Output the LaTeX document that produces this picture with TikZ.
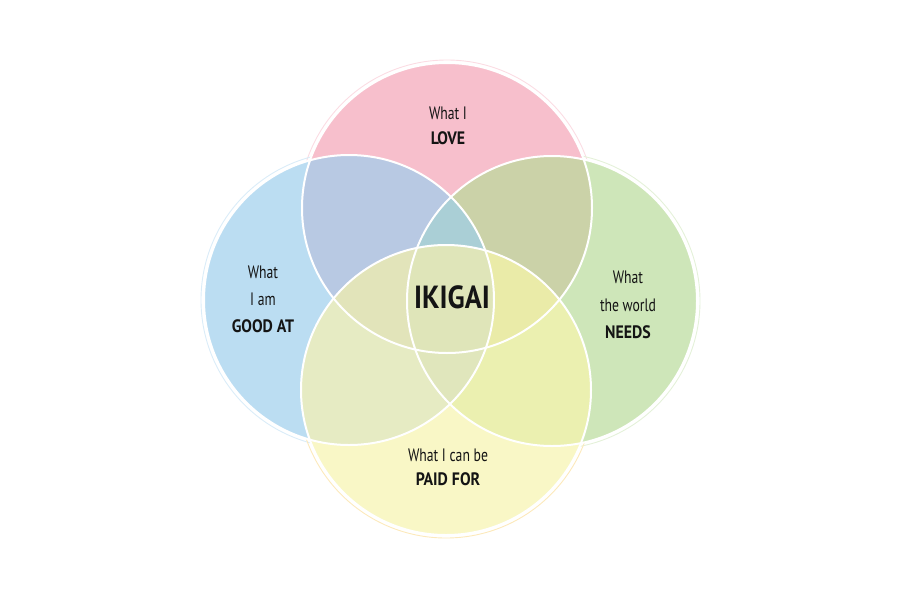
\documentclass[tikz,border=0pt]{standalone}
\usepackage{fontspec}
\setmainfont{PT Sans}[FakeStretch=0.76, BoldFeatures={FakeStretch=0.88}]
\definecolor{cT}{HTML}{F7BFCC}
\definecolor{cL}{HTML}{BBDDF2}
\definecolor{cR}{HTML}{CEE6B9}
\definecolor{cB}{HTML}{F9F7C6}
\definecolor{cTL}{HTML}{B8C9E3}
\definecolor{cTR}{HTML}{CBD2A8}
\definecolor{cLB}{HTML}{E6EBC3}
\definecolor{cRB}{HTML}{EBF0B0}
\definecolor{cTLR}{HTML}{AACFD6}
\definecolor{cTLB}{HTML}{E2E4BA}
\definecolor{cTRB}{HTML}{EAEBA8}
\definecolor{cLRB}{HTML}{E0E6BC}
\definecolor{cAll}{HTML}{DFE5B9}
\definecolor{ink}{HTML}{141414}
\tikzset{
  lbl/.style={text=ink, align=center, inner sep=0pt, font=\fontsize{18}{27}\selectfont},
  big/.style={text=ink, inner sep=0pt, font=\fontsize{32}{34}\selectfont\bfseries},
  edge/.style={draw=white, line width=2pt},
  halo/.style={line width=0.9pt}
}
\begin{document}
\begin{tikzpicture}[x=1pt,y=-1pt]
\useasboundingbox (0,0) rectangle (900,600);
\def\rr{145}
\coordinate (T) at (447,208);
\coordinate (L) at (349,300);
\coordinate (R) at (552,301);
\coordinate (B) at (446,390);
% faint outer rings
\draw[halo, draw=cT!55] (T) circle[radius=\rr+3];
\draw[halo, draw=cL!55] (L) circle[radius=\rr+3];
\draw[halo, draw=cR!55] (R) circle[radius=\rr+3];
\draw[halo, draw=cB!80!orange!70] (B) circle[radius=\rr+3];
% base fills
\fill[cT] (T) circle[radius=\rr];
\fill[cL] (L) circle[radius=\rr];
\fill[cR] (R) circle[radius=\rr];
\fill[cB] (B) circle[radius=\rr];
% pair overlaps
\begin{scope}\clip (T) circle[radius=\rr]; \fill[cTL] (L) circle[radius=\rr]; \fill[cTR] (R) circle[radius=\rr]; \end{scope}
\begin{scope}\clip (B) circle[radius=\rr]; \fill[cLB] (L) circle[radius=\rr]; \fill[cRB] (R) circle[radius=\rr]; \end{scope}
% triple overlaps
\begin{scope}\clip (T) circle[radius=\rr]; \clip (L) circle[radius=\rr]; \fill[cTLR] (R) circle[radius=\rr]; \end{scope}
\begin{scope}\clip (T) circle[radius=\rr]; \clip (L) circle[radius=\rr]; \fill[cTLB] (B) circle[radius=\rr]; \end{scope}
\begin{scope}\clip (T) circle[radius=\rr]; \clip (R) circle[radius=\rr]; \fill[cTRB] (B) circle[radius=\rr]; \end{scope}
\begin{scope}\clip (L) circle[radius=\rr]; \clip (R) circle[radius=\rr]; \fill[cLRB] (B) circle[radius=\rr]; \end{scope}
% all four
\begin{scope}\clip (T) circle[radius=\rr]; \clip (L) circle[radius=\rr]; \clip (R) circle[radius=\rr]; \fill[cAll] (B) circle[radius=\rr]; \end{scope}
% white edges
\draw[edge] (T) circle[radius=\rr];
\draw[edge] (L) circle[radius=\rr];
\draw[edge] (R) circle[radius=\rr];
\draw[edge] (B) circle[radius=\rr];
% labels
\node[lbl, font=\fontsize{18}{25}\selectfont] (love) at (448,126) {What I\\\textbf{LOVE}};
\node[lbl] (good) at (263,299) {What\\I am\\\textbf{GOOD AT}};
\node[lbl, font=\fontsize{18}{27.5}\selectfont] (needs) at (628,305) {What\\the world\\\textbf{NEEDS}};
\node[lbl, font=\fontsize{18}{24}\selectfont] (paid) at (448,467) {What I can be\\\textbf{PAID FOR}};
\node[big] (ikigai) at (452,297) {IKIGAI};
\end{tikzpicture}
\end{document}
